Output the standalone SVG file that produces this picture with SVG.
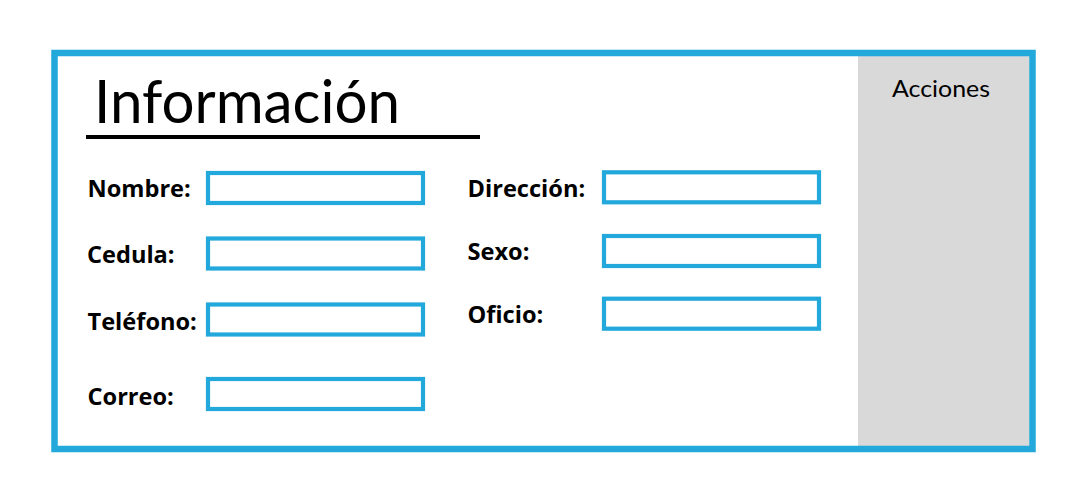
<svg xmlns="http://www.w3.org/2000/svg" width="1086" height="503" viewBox="0 0 1086 503">
<style>
.box{fill:#ffffff;stroke:#22a8db;stroke-width:4.2}
.lbl{font-family:"Open Sans","Liberation Sans",sans-serif;font-weight:700;font-size:23.6px;fill:#000}
.title{font-family:"Lato","Liberation Sans",sans-serif;font-size:60px;fill:#000}
.acc{font-family:"Lato","Liberation Sans",sans-serif;font-size:23px;fill:#000}
</style>
<rect width="1086" height="503" fill="#ffffff"/>
<g id="frame">
<rect x="858" y="56" width="171.5" height="390" fill="#d9d9d9"/>
<rect x="54.5" y="53" width="978" height="396" fill="none" stroke="#22a8db" stroke-width="6.5"/>
</g>
<g id="title">
<text class="title" x="94" y="123" textLength="306" lengthAdjust="spacingAndGlyphs">Información</text>
<line x1="86" y1="137" x2="480" y2="137" stroke="#000" stroke-width="4"/>
</g>
<g id="acciones">
<text class="acc" x="892" y="97" textLength="98" lengthAdjust="spacingAndGlyphs">Acciones</text>
</g>
<g id="nombre">
<text class="lbl" x="87.5" y="197">Nombre:</text>
<rect class="box" x="208" y="173" width="215" height="30"/>
</g>
<g id="cedula">
<text class="lbl" x="87" y="263">Cedula:</text>
<rect class="box" x="208" y="238.5" width="215" height="30"/>
</g>
<g id="telefono">
<text class="lbl" x="87.5" y="330">Teléfono:</text>
<rect class="box" x="208" y="304.5" width="215" height="30"/>
</g>
<g id="correo">
<text class="lbl" x="87.5" y="404.5">Correo:</text>
<rect class="box" x="208" y="379" width="215" height="30"/>
</g>
<g id="direccion">
<text class="lbl" x="467.5" y="197">Dirección:</text>
<rect class="box" x="604" y="172.3" width="215" height="30"/>
</g>
<g id="sexo">
<text class="lbl" x="467.5" y="260">Sexo:</text>
<rect class="box" x="604" y="236" width="215" height="30"/>
</g>
<g id="oficio">
<text class="lbl" x="467.5" y="323">Oficio:</text>
<rect class="box" x="604" y="298.7" width="215" height="30"/>
</g>
<g id="connectors"></g>
</svg>
